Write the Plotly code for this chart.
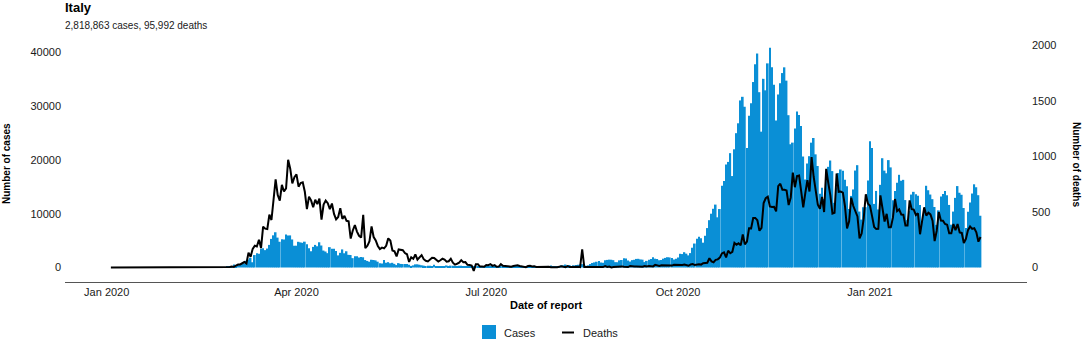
import pandas as pd
import plotly.graph_objects as go

# ---- Daily reported values (Italy), one list per month of report ----
start_date = "2020-01-03"

cases_2020_01 = [0, 0, 0, 0, 0, 0, 0, 0, 0, 0, 0, 0, 0, 0, 0, 0, 0, 0, 0, 0, 0, 0, 0, 0, 0, 0, 0, 0, 0, 2]
deaths_2020_01 = [0, 0, 0, 0, 0, 0, 0, 0, 0, 0, 0, 0, 0, 0, 0, 0, 0, 0, 0, 0, 0, 0, 0, 0, 0, 0, 0, 0, 0, 0]

cases_2020_02 = [0, 0, 0, 0, 0, 1, 0, 0, 0, 0, 0, 0, 0, 0, 0, 0, 0, 0, 0, 0,
                 17, 59, 76, 72, 93, 78, 250, 238, 240]
deaths_2020_02 = [0, 0, 0, 0, 0, 0, 0, 0, 0, 0, 0, 0, 0, 0, 0, 0, 0, 0, 0, 0,
                  1, 1, 1, 4, 4, 1, 5, 4, 8]

cases_2020_03 = [566, 342, 466, 587, 769, 778, 1247, 1492, 1797, 977, 2313, 2651, 2547, 3497, 3590, 3233,
                 3526, 4207, 5322, 5986, 6557, 5560, 4789, 5249, 5210, 6153, 5959, 5974, 5217, 4050, 4053]
deaths_2020_03 = [5, 18, 27, 28, 41, 49, 36, 133, 97, 168, 196, 189, 250, 175, 368, 349,
                  345, 475, 427, 627, 793, 651, 601, 743, 683, 712, 969, 889, 756, 812, 837]

cases_2020_04 = [4782, 4668, 4585, 4805, 4316, 3599, 3039, 3836, 4204, 3951, 4694, 4092, 3153, 2972, 2667,
                 3786, 3493, 3491, 3047, 2256, 2729, 3370, 2646, 3021, 2357, 2324, 1739, 2091, 2086, 1872]
deaths_2020_04 = [727, 760, 766, 681, 525, 636, 604, 542, 610, 570, 619, 431, 566, 602, 578,
                  525, 575, 482, 433, 454, 534, 437, 464, 420, 415, 260, 333, 382, 323, 285]

cases_2020_05 = [1965, 1900, 1389, 1221, 1075, 1444, 1401, 1327, 1083, 802, 744, 1402, 888, 992, 789, 875,
                 675, 451, 813, 665, 642, 652, 669, 531, 300, 397, 584, 593, 516, 416, 355]
deaths_2020_05 = [269, 474, 174, 195, 236, 369, 274, 243, 194, 165, 179, 172, 195, 262, 242, 153,
                  145, 99, 162, 161, 156, 130, 119, 50, 92, 78, 117, 70, 87, 111, 75]

cases_2020_06 = [178, 318, 321, 177, 518, 270, 197, 280, 283, 202, 379, 163, 346, 338, 301,
                 210, 329, 333, 251, 262, 224, 218, 122, 190, 296, 259, 175, 174, 126, 142]
deaths_2020_06 = [60, 55, 71, 88, 85, 72, 53, 65, 79, 71, 53, 56, 78, 44, 26,
                  34, 43, 66, 47, 49, 24, 23, 18, -31, 30, 30, 8, 8, 6, 23]

cases_2020_07 = [182, 201, 223, 235, 192, 208, 138, 193, 229, 276, 188, 234, 169, 114, 162, 230,
                 233, 249, 219, 190, 129, 282, 306, 252, 275, 255, 170, 181, 212, 289, 386]
deaths_2020_07 = [21, 30, 15, 21, 7, 8, 30, 15, 12, 12, 7, 7, 13, 17, 20, 13,
                  11, 9, 3, 13, 15, 9, 11, 5, 5, 5, 5, 11, 11, 6, 3]

cases_2020_08 = [295, 239, 159, 190, 384, 402, 552, 347, 463, 259, 412, 481, 523, 574, 629, 479,
                 320, 403, 642, 845, 947, 1071, 1210, 953, 878, 1367, 1411, 1462, 1444, 1365, 996]
deaths_2020_08 = [5, 3, 2, 6, 10, 6, 3, 12, 4, 4, 6, 10, 6, 3, 164, 4,
                  4, 5, 7, 6, 9, 3, 7, 4, 4, 13, 5, 9, 1, 4, 6]

cases_2020_09 = [978, 1326, 1397, 1733, 1695, 1297, 1108, 1370, 1434, 1597, 1616, 1501, 1458, 1008, 1229,
                 1452, 1585, 1907, 1638, 1587, 1350, 1392, 1640, 1786, 1912, 1869, 1766, 1494, 1648, 1851]
deaths_2020_09 = [6, 8, 10, 6, 7, 4, 14, 10, 10, 10, 10, 7, 7, 14, 9,
                  14, 10, 10, 24, 17, 14, 20, 20, 19, 21, 23, 17, 24, 24, 19]

cases_2020_10 = [2548, 2499, 2844, 2578, 2257, 2677, 3678, 4458, 5372, 5724, 5456, 4619, 5901, 7332, 8804, 10010,
                 10925, 11705, 9338, 10874, 15199, 16079, 19143, 19644, 21273, 17012, 21994, 24991, 26831, 31084, 31758]
deaths_2020_10 = [24, 23, 27, 18, 16, 28, 31, 22, 28, 29, 26, 39, 41, 43, 83, 55,
                  47, 69, 73, 89, 127, 136, 91, 151, 128, 141, 221, 205, 217, 199, 297]

cases_2020_11 = [29907, 22253, 28244, 30550, 34505, 37809, 39811, 32616, 25271, 35098, 32961, 37978, 40902, 37255, 33979,
                 27354, 32191, 34283, 36176, 37242, 34767, 28337, 22930, 23232, 25853, 29003, 28352, 26323, 20648, 16377]
deaths_2020_11 = [208, 233, 353, 352, 445, 446, 425, 331, 356, 580, 623, 636, 550, 544, 546,
                  504, 731, 753, 699, 699, 692, 562, 630, 853, 722, 822, 827, 686, 541, 672]

cases_2020_12 = [19350, 20709, 23225, 24099, 21052, 18887, 13720, 14842, 12756, 16999, 18727, 19903, 17938, 12030, 14844, 17572,
                 18236, 17992, 16308, 15104, 10872, 13318, 14522, 18040, 19037, 10407, 8913, 11212, 11224, 16202, 23477]
deaths_2020_12 = [785, 684, 993, 814, 662, 564, 528, 634, 499, 887, 761, 649, 484, 491, 846, 680,
                  683, 674, 553, 352, 415, 628, 553, 505, 459, 261, 305, 445, 659, 575, 555]

cases_2021_01 = [22211, 11831, 14245, 10800, 15378, 20331, 18020, 17533, 19978, 18627, 12532, 14242, 15774, 17246, 16146, 16310,
                 12545, 8825, 10497, 13571, 14078, 13633, 13331, 11629, 8561, 10593, 15204, 14372, 13574, 12715, 11252]
deaths_2021_01 = [462, 364, 347, 348, 649, 548, 414, 483, 361, 361, 448, 616, 507, 522, 477, 475,
                  377, 377, 603, 524, 521, 472, 488, 299, 420, 541, 467, 492, 477, 421, 237]

cases_2021_02 = [7925, 10630, 13189, 13659, 14218, 13442, 11641, 7970, 10404, 12956, 15146,
                 13908, 13532, 11068, 7351, 10386, 12074, 13762, 15479, 14931, 13452, 9630]
deaths_2021_02 = [329, 499, 422, 421, 391, 385, 307, 307, 391, 336, 391,
                  316, 311, 221, 258, 336, 369, 347, 353, 316, 232, 274]

country = "Italy"
total_cases = "2,818,863"
total_deaths = "95,992"
x_tick_values = ["2020-01-01", "2020-04-01", "2020-07-01", "2020-10-01", "2021-01-01"]
x_tick_labels = ["Jan 2020", "Apr 2020", "Jul 2020", "Oct 2020", "Jan 2021"]
cases_ticks = [0, 10000, 20000, 30000, 40000]
deaths_ticks = [0, 500, 1000, 1500, 2000]
series_names = ["Cases", "Deaths"]

# ---- assemble ----
case_months = [cases_2020_01, cases_2020_02, cases_2020_03, cases_2020_04, cases_2020_05, cases_2020_06,
               cases_2020_07, cases_2020_08, cases_2020_09, cases_2020_10, cases_2020_11, cases_2020_12,
               cases_2021_01, cases_2021_02]
death_months = [deaths_2020_01, deaths_2020_02, deaths_2020_03, deaths_2020_04, deaths_2020_05, deaths_2020_06,
                deaths_2020_07, deaths_2020_08, deaths_2020_09, deaths_2020_10, deaths_2020_11, deaths_2020_12,
                deaths_2021_01, deaths_2021_02]
expected = [30, 29, 31, 30, 31, 30, 31, 31, 30, 31, 30, 31, 31, 22]
for c, d, n in zip(case_months, death_months, expected):
    assert len(c) == n and len(d) == n, (len(c), len(d), n)

cases = [v for m in case_months for v in m]
deaths = [v for m in death_months for v in m]
dates = pd.date_range(start_date, periods=len(cases), freq="D")

BLUE = "#0a8fd6"
FONT = "Liberation Sans, Arial, sans-serif"
TXT = "#1a1a1a"

# panel geometry in pixels (from the reference)
W, H = 1084, 341
L, R, T, B = 65, 1027, 37, 282
PH = B - T
PW = R - L


def px_y(py):
    return (B - py) / PH


def px_x(pxx):
    return (pxx - L) / PW


fig = go.Figure()
fig.add_trace(go.Bar(
    x=dates, y=cases, name=series_names[0], marker=dict(color=BLUE, line=dict(width=0)),
    yaxis="y"))
fig.add_trace(go.Scatter(
    x=dates, y=deaths, name=series_names[1], mode="lines",
    line=dict(color="black", width=2), yaxis="y2"))

# legend drawn as keys + labels below the panel (avoids plotly's legend auto-margin)
legend_shapes = [
    dict(type="rect", xref="paper", yref="paper", x0=px_x(482), x1=px_x(496), y0=px_y(339), y1=px_y(325),
         fillcolor=BLUE, line=dict(width=0)),
    dict(type="line", xref="paper", yref="paper", x0=px_x(562), x1=px_x(574), y0=px_y(332.5), y1=px_y(332.5),
         line=dict(color="black", width=2)),
]

fig.update_layout(
    width=W, height=H,
    margin=dict(l=L, r=W - R, t=T, b=H - B, pad=0, autoexpand=False),
    paper_bgcolor="white", plot_bgcolor="white",
    font=dict(family=FONT, size=11, color=TXT),
    bargap=0.17,
    showlegend=False,
    shapes=legend_shapes,
    xaxis=dict(
        type="date", range=["2019-12-12 00:00", "2021-03-17 07:00"],
        tickvals=x_tick_values, ticktext=x_tick_labels,
        showgrid=False, zeroline=False, showline=True, linecolor="#555555", linewidth=1,
        ticks="", tickfont=dict(size=11, color=TXT), ticklabelstandoff=0,
    ),
    yaxis=dict(
        range=[-2698, 42885], tickvals=cases_ticks, ticktext=[str(v) for v in cases_ticks],
        showgrid=False, zeroline=False, showline=False, ticks="",
        tickfont=dict(size=11, color=TXT), ticklabelstandoff=3,
    ),
    yaxis2=dict(
        overlaying="y", side="right", range=[-130.4, 2073],
        tickvals=deaths_ticks, ticktext=[str(v) for v in deaths_ticks],
        showgrid=False, zeroline=False, showline=False, ticks="",
        tickfont=dict(size=11, color=TXT), ticklabelstandoff=4,
    ),
    annotations=[
        dict(text="<b>" + country + "</b>", x=px_x(63), y=px_y(8), xref="paper", yref="paper",
             xanchor="left", yanchor="middle", showarrow=False, font=dict(size=13, color="black")),
        dict(text=f"{total_cases} cases, {total_deaths} deaths", x=px_x(63), y=px_y(25),
             xref="paper", yref="paper", xanchor="left", yanchor="middle", showarrow=False,
             font=dict(size=10, color=TXT)),
        dict(text="<b>Number of cases</b>", x=px_x(6), y=px_y(164), xref="paper", yref="paper",
             xanchor="center", yanchor="middle", textangle=-90, showarrow=False,
             font=dict(size=10, color="black")),
        dict(text="<b>Number of deaths</b>", x=px_x(1077), y=px_y(164), xref="paper", yref="paper",
             xanchor="center", yanchor="middle", textangle=90, showarrow=False,
             font=dict(size=10, color="black")),
        dict(text="<b>Date of report</b>", x=px_x(546), y=px_y(305), xref="paper", yref="paper",
             xanchor="center", yanchor="middle", showarrow=False,
             font=dict(size=11, color="black")),
        dict(text=series_names[0], x=px_x(502), y=px_y(332.5), xref="paper", yref="paper",
             xanchor="left", yanchor="middle", showarrow=False, font=dict(size=11, color=TXT)),
        dict(text=series_names[1], x=px_x(580.5), y=px_y(332.5), xref="paper", yref="paper",
             xanchor="left", yanchor="middle", showarrow=False, font=dict(size=11, color=TXT)),
    ],
)

fig.write_html(
    "out.html",
    config={"displayModeBar": False},
    post_script="document.body.style.margin='0';document.body.style.overflow='hidden';",
)
